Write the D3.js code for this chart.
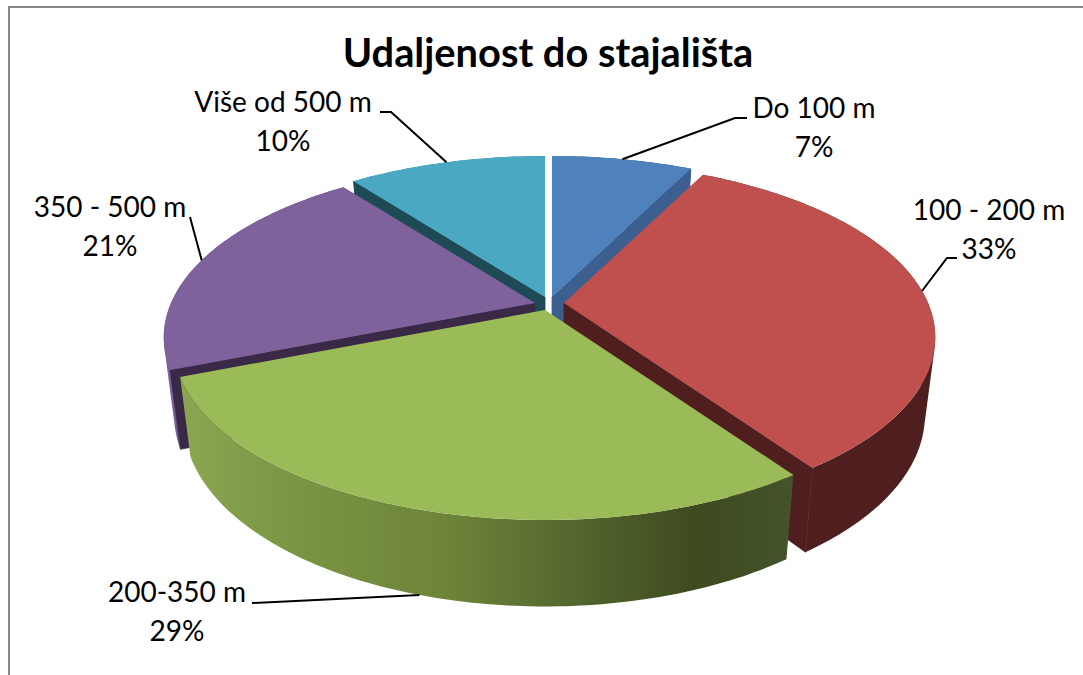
<!DOCTYPE html>
<html lang="en">
<head>
    <meta charset="UTF-8">
    <title>Udaljenost do stajališta</title>
    <script src="https://cdnjs.cloudflare.com/ajax/libs/d3/7.8.5/d3.min.js"></script>
    <style>
        html, body { margin: 0; padding: 0; background: #fff; }
        svg { display: block; }
        text { font-family: Lato, "Open Sans", sans-serif; fill: #000; text-anchor: middle; }
        .title { font-size: 39.8px; font-weight: 700; }
        .label { font-size: 28px; }
        .leader { fill: none; stroke: #000; stroke-width: 2px; }
    </style>
</head>
<body>
<svg></svg>
<script>
    // data
    var title = "Udaljenost do stajališta";
    var categories = ["Do 100 m", "100 - 200 m", "200-350 m", "350 - 500 m", "Više od 500 m"];
    var shares = [7.4, 32.9, 28.7, 20.6, 10.4];

    // per slice styling, same order as categories
    var topColors = ["#4f81bd", "#c0504d", "#9bbb59", "#7f619c", "#4aa8c3"];
    var radialColors = ["#3c5f8f", "#4f1f1f", "#3f4a20", "#3a2847", "#1e4a55"];
    var wallFill = ["#3c5f8f", "#4f1f1f", "url(#greenWall)", "#7a5d9a", "#3f93aa"];
    // how far each slice is pulled out of the pie
    var explodeX = [4, 16, -3, -13, -3];
    var explodeY = [-7, -1, 6, -1, -7];

    // label layout, same order as categories
    var labelX = [814, 989, 177, 110, 283];
    var labelY = [118, 220, 602, 217, 112];
    var elbows = [[[735, 118], [747, 118]], [[947, 258], [957, 258]], [[252, 603]], [[190, 217]], [[391, 112], [380, 112]]];

    // the height and width of the page
    var width = 1083;
    var height = 675;
    var cx = 548, cy = 304;
    // perspective disc: A across, B in depth, k how fast the far side shrinks
    var A = 364, B = 168.7, k = 0.1966;
    // the bottom rim is a slightly narrower, taller copy pushed down
    var depth = 76, bottomX = 0.972, bottomY = 1.05;

    var svg = d3.select("svg").attr("width", width).attr("height", height);

    var pie = d3.pie().sort(null).value(function (d) { return d; });
    var arcs = pie(shares);

    arcs.forEach(function (a) {
        a.mid = (a.startAngle + a.endAngle) / 2;
        a.ox = cx + explodeX[a.index];
        a.oy = cy + explodeY[a.index];
    });

    function rim(a, angle, bottom) {
        var u = Math.sin(angle), v = Math.cos(angle);
        var s = 1 + k * v;
        var dx = A * u / s, dy = -B * v / s;
        if (bottom) {
            return [a.ox + dx * bottomX, a.oy + dy * bottomY + depth];
        }
        return [a.ox + dx, a.oy + dy];
    }

    function samples(a) {
        var n = Math.ceil((a.endAngle - a.startAngle) * 60);
        return d3.range(n + 1).map(function (i) {
            return a.startAngle + (a.endAngle - a.startAngle) * i / n;
        });
    }

    var line = d3.line();

    // green side is the only one with a visible shading
    var defs = svg.append("defs");
    var grad = defs.append("linearGradient")
        .attr("id", "greenWall")
        .attr("gradientUnits", "userSpaceOnUse")
        .attr("x1", 187).attr("x2", 787).attr("y1", 0).attr("y2", 0);
    [[0, "#8aa650"], [0.19, "#7a9443"], [0.44, "#6d8339"], [0.62, "#566a30"], [0.85, "#3e4a1f"], [1, "#44532a"]]
        .forEach(function (s) {
            grad.append("stop").attr("offset", s[0]).attr("stop-color", s[1]);
        });

    function drawSlice(i, radialAngle) {
        var a = arcs[i];
        var g = svg.append("g");
        var steps = samples(a);

        // outer wall: quads all wound the same way in one path, no seams and no holes
        var wall = d3.pairs(steps).map(function (p) {
            var quad = [rim(a, p[0]), rim(a, p[1]), rim(a, p[1], true), rim(a, p[0], true)];
            if (d3.polygonArea(quad) < 0) quad.reverse();
            return line(quad) + "Z";
        }).join("");
        g.append("path")
            .attr("d", wall)
            .style("fill", wallFill[i]);

        // wall along the cut, thin stroke hides the seam with the outer wall
        if (radialAngle !== null) {
            g.append("path")
                .attr("d", line([[a.ox, a.oy], rim(a, radialAngle), rim(a, radialAngle, true), [a.ox, a.oy + depth]]) + "Z")
                .style("fill", radialColors[i])
                .style("stroke", radialColors[i])
                .style("stroke-width", 0.8);
        }

        // top face
        var pts = [[a.ox, a.oy]].concat(steps.map(function (t) { return rim(a, t); }));
        g.append("path")
            .attr("d", line(pts) + "Z")
            .style("fill", topColors[i]);
    }

    // back to front
    drawSlice(0, arcs[0].endAngle);
    drawSlice(4, arcs[4].startAngle);
    drawSlice(3, arcs[3].startAngle);
    drawSlice(1, arcs[1].endAngle);
    drawSlice(2, null);

    // the chart frame, only left and top show
    svg.append("path")
        .attr("d", line([[9, height], [9, 7], [width, 7]]))
        .style("fill", "none")
        .style("stroke", "#868686")
        .style("stroke-width", 2);

    svg.append("text")
        .attr("class", "title")
        .attr("x", 548)
        .attr("y", 67)
        .text(title);

    // leader lines start on the rim, green one on the bottom rim
    arcs.forEach(function (a) {
        var start = rim(a, a.mid, a.index === 2);
        svg.append("path")
            .attr("class", "leader")
            .attr("d", line([start].concat(elbows[a.index])));
    });

    var percent = d3.format(".0f");
    categories.forEach(function (c, i) {
        svg.append("text").attr("class", "label").attr("x", labelX[i]).attr("y", labelY[i]).text(c);
        svg.append("text").attr("class", "label").attr("x", labelX[i]).attr("y", labelY[i] + 39)
            .text(percent(shares[i]) + "%");
    });
</script>
</body>
</html>
